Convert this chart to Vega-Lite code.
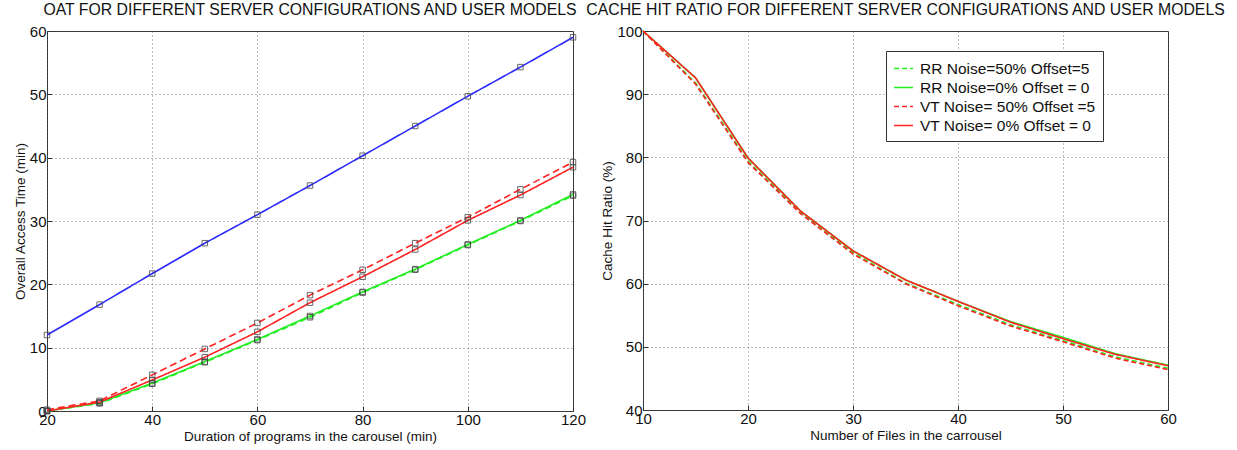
{
  "$schema": "https://vega.github.io/schema/vega-lite/v6.json",
  "padding": {"left": 12, "top": 1, "right": 5, "bottom": 2},
  "background": "white",
  "bounds": "flush",
  "spacing": 70,
  "config": {
    "font": "Liberation Sans",
    "view": {"stroke": "#333", "strokeWidth": 1},
    "axis": {
      "gridDash": [1, 3], "gridColor": "#555", "gridOpacity": 0.8,
      "domain": false, "tickSize": -5, "tickColor": "#333", "labelPadding": 6, "labelFlush": false,
      "labelFontSize": 15, "labelColor": "#111", "titleFontSize": 13.5, "titleFontWeight": "normal", "titleColor": "#111"
    },
    "title": {"fontSize": 15.8, "fontWeight": "normal", "color": "#111", "offset": 5}
  },
  "resolve": {"scale": {"color": "independent", "strokeDash": "independent"}, "legend": {"color": "independent", "strokeDash": "independent"}},
  "datasets": {
    "oat": [
      {"x": 20, "series": "Blue", "v": 12.0}, {"x": 30, "series": "Blue", "v": 16.8}, {"x": 40, "series": "Blue", "v": 21.7}, {"x": 50, "series": "Blue", "v": 26.5}, {"x": 60, "series": "Blue", "v": 31.0}, {"x": 70, "series": "Blue", "v": 35.6}, {"x": 80, "series": "Blue", "v": 40.3}, {"x": 90, "series": "Blue", "v": 45.0}, {"x": 100, "series": "Blue", "v": 49.7}, {"x": 110, "series": "Blue", "v": 54.3}, {"x": 120, "series": "Blue", "v": 59.0},
      {"x": 20, "series": "RR50", "v": 0.0}, {"x": 30, "series": "RR50", "v": 1.2}, {"x": 40, "series": "RR50", "v": 4.3}, {"x": 50, "series": "RR50", "v": 7.7}, {"x": 60, "series": "RR50", "v": 11.2}, {"x": 70, "series": "RR50", "v": 14.8}, {"x": 80, "series": "RR50", "v": 18.7}, {"x": 90, "series": "RR50", "v": 22.3}, {"x": 100, "series": "RR50", "v": 26.2}, {"x": 110, "series": "RR50", "v": 30.0}, {"x": 120, "series": "RR50", "v": 34.0},
      {"x": 20, "series": "RR0", "v": 0.0}, {"x": 30, "series": "RR0", "v": 1.3}, {"x": 40, "series": "RR0", "v": 4.4}, {"x": 50, "series": "RR0", "v": 7.8}, {"x": 60, "series": "RR0", "v": 11.3}, {"x": 70, "series": "RR0", "v": 15.0}, {"x": 80, "series": "RR0", "v": 18.8}, {"x": 90, "series": "RR0", "v": 22.4}, {"x": 100, "series": "RR0", "v": 26.3}, {"x": 110, "series": "RR0", "v": 30.1}, {"x": 120, "series": "RR0", "v": 34.2},
      {"x": 20, "series": "VT50", "v": 0.2}, {"x": 30, "series": "VT50", "v": 1.6}, {"x": 40, "series": "VT50", "v": 5.7}, {"x": 50, "series": "VT50", "v": 9.8}, {"x": 60, "series": "VT50", "v": 13.9}, {"x": 70, "series": "VT50", "v": 18.3}, {"x": 80, "series": "VT50", "v": 22.3}, {"x": 90, "series": "VT50", "v": 26.5}, {"x": 100, "series": "VT50", "v": 30.6}, {"x": 110, "series": "VT50", "v": 35.0}, {"x": 120, "series": "VT50", "v": 39.3},
      {"x": 20, "series": "VT0", "v": 0.0}, {"x": 30, "series": "VT0", "v": 1.4}, {"x": 40, "series": "VT0", "v": 4.9}, {"x": 50, "series": "VT0", "v": 8.5}, {"x": 60, "series": "VT0", "v": 12.5}, {"x": 70, "series": "VT0", "v": 17.1}, {"x": 80, "series": "VT0", "v": 21.2}, {"x": 90, "series": "VT0", "v": 25.5}, {"x": 100, "series": "VT0", "v": 30.1}, {"x": 110, "series": "VT0", "v": 34.1}, {"x": 120, "series": "VT0", "v": 38.5}
    ],
    "chr": [
      {"n": 10, "series": "RR Noise=50% Offset=5", "v": 100.0}, {"n": 15, "series": "RR Noise=50% Offset=5", "v": 91.8}, {"n": 20, "series": "RR Noise=50% Offset=5", "v": 79.4}, {"n": 25, "series": "RR Noise=50% Offset=5", "v": 71.2}, {"n": 30, "series": "RR Noise=50% Offset=5", "v": 64.9}, {"n": 35, "series": "RR Noise=50% Offset=5", "v": 60.1}, {"n": 40, "series": "RR Noise=50% Offset=5", "v": 56.7}, {"n": 45, "series": "RR Noise=50% Offset=5", "v": 53.5}, {"n": 50, "series": "RR Noise=50% Offset=5", "v": 51.0}, {"n": 55, "series": "RR Noise=50% Offset=5", "v": 48.4}, {"n": 60, "series": "RR Noise=50% Offset=5", "v": 46.6},
      {"n": 10, "series": "RR Noise=0% Offset = 0", "v": 100.0}, {"n": 15, "series": "RR Noise=0% Offset = 0", "v": 92.6}, {"n": 20, "series": "RR Noise=0% Offset = 0", "v": 79.9}, {"n": 25, "series": "RR Noise=0% Offset = 0", "v": 71.5}, {"n": 30, "series": "RR Noise=0% Offset = 0", "v": 65.2}, {"n": 35, "series": "RR Noise=0% Offset = 0", "v": 60.6}, {"n": 40, "series": "RR Noise=0% Offset = 0", "v": 57.2}, {"n": 45, "series": "RR Noise=0% Offset = 0", "v": 54.0}, {"n": 50, "series": "RR Noise=0% Offset = 0", "v": 51.5}, {"n": 55, "series": "RR Noise=0% Offset = 0", "v": 48.9}, {"n": 60, "series": "RR Noise=0% Offset = 0", "v": 47.1},
      {"n": 10, "series": "VT Noise= 50% Offset =5", "v": 100.0}, {"n": 15, "series": "VT Noise= 50% Offset =5", "v": 91.6}, {"n": 20, "series": "VT Noise= 50% Offset =5", "v": 79.2}, {"n": 25, "series": "VT Noise= 50% Offset =5", "v": 71.1}, {"n": 30, "series": "VT Noise= 50% Offset =5", "v": 64.7}, {"n": 35, "series": "VT Noise= 50% Offset =5", "v": 60.0}, {"n": 40, "series": "VT Noise= 50% Offset =5", "v": 56.5}, {"n": 45, "series": "VT Noise= 50% Offset =5", "v": 53.3}, {"n": 50, "series": "VT Noise= 50% Offset =5", "v": 50.8}, {"n": 55, "series": "VT Noise= 50% Offset =5", "v": 48.2}, {"n": 60, "series": "VT Noise= 50% Offset =5", "v": 46.4},
      {"n": 10, "series": "VT Noise= 0% Offset = 0", "v": 100.0}, {"n": 15, "series": "VT Noise= 0% Offset = 0", "v": 92.6}, {"n": 20, "series": "VT Noise= 0% Offset = 0", "v": 79.9}, {"n": 25, "series": "VT Noise= 0% Offset = 0", "v": 71.5}, {"n": 30, "series": "VT Noise= 0% Offset = 0", "v": 65.2}, {"n": 35, "series": "VT Noise= 0% Offset = 0", "v": 60.6}, {"n": 40, "series": "VT Noise= 0% Offset = 0", "v": 57.2}, {"n": 45, "series": "VT Noise= 0% Offset = 0", "v": 53.9}, {"n": 50, "series": "VT Noise= 0% Offset = 0", "v": 51.3}, {"n": 55, "series": "VT Noise= 0% Offset = 0", "v": 48.8}, {"n": 60, "series": "VT Noise= 0% Offset = 0", "v": 47.0}
    ]
  },
  "hconcat": [
    {
      "width": 526, "height": 380,
      "title": "OAT FOR DIFFERENT SERVER CONFIGURATIONS AND USER MODELS",
      "data": {"name": "oat"},
      "encoding": {
        "x": {"field": "x", "type": "quantitative", "scale": {"domain": [20, 120], "nice": false}, "axis": {"values": [20, 40, 60, 80, 100, 120], "title": "Duration of programs in the carousel (min)", "titlePadding": 2}},
        "y": {"field": "v", "type": "quantitative", "scale": {"domain": [0, 60], "nice": false}, "axis": {"values": [0, 10, 20, 30, 40, 50, 60], "title": "Overall Access Time (min)", "titlePadding": 2}}
      },
      "layer": [
        {
          "mark": {"type": "line", "strokeWidth": 1.6},
          "encoding": {
            "detail": {"field": "series"},
            "color": {"field": "series", "type": "nominal", "scale": {"domain": ["Blue", "RR50", "RR0", "VT50", "VT0"], "range": ["#2a2aff", "#22ee22", "#22ee22", "#ff2222", "#ff2222"]}, "legend": null},
            "strokeDash": {"field": "series", "type": "nominal", "scale": {"domain": ["Blue", "RR50", "RR0", "VT50", "VT0"], "range": [[1, 0], [6, 4], [1, 0], [7, 4], [1, 0]]}, "legend": null}
          }
        },
        {
          "mark": {"type": "point", "shape": "square", "filled": false, "size": 30, "stroke": "#444", "strokeWidth": 1, "opacity": 0.8},
          "encoding": {"detail": {"field": "series"}}
        }
      ]
    },
    {
      "width": 525, "height": 379,
      "title": "CACHE HIT RATIO FOR DIFFERENT SERVER CONFIGURATIONS AND USER MODELS",
      "data": {"name": "chr"},
      "encoding": {
        "x": {"field": "n", "type": "quantitative", "scale": {"domain": [10, 60], "nice": false}, "axis": {"values": [10, 20, 30, 40, 50, 60], "title": "Number of Files in the carrousel", "titlePadding": 2}},
        "y": {"field": "v", "type": "quantitative", "scale": {"domain": [40, 100], "nice": false}, "axis": {"values": [40, 50, 60, 70, 80, 90, 100], "title": "Cache Hit Ratio (%)", "titlePadding": 2}}
      },
      "layer": [
        {
          "mark": {"type": "line", "strokeWidth": 1.6},
          "encoding": {
            "color": {"field": "series", "type": "nominal", "title": null, "scale": {"domain": ["RR Noise=50% Offset=5", "RR Noise=0% Offset = 0", "VT Noise= 50% Offset =5", "VT Noise= 0% Offset = 0"], "range": ["#22ee22", "#22ee22", "#ff2222", "#ff2222"]},
              "legend": {"orient": "none", "legendX": 243, "legendY": 20, "strokeColor": "#333", "fillColor": "white", "padding": 7, "symbolType": "stroke", "symbolSize": 361, "symbolStrokeWidth": 1.6, "labelFontSize": 15.5, "labelLimit": 400, "labelColor": "#111", "rowPadding": 0, "labelOffset": 6}},
            "strokeDash": {"field": "series", "type": "nominal", "title": null, "scale": {"domain": ["RR Noise=50% Offset=5", "RR Noise=0% Offset = 0", "VT Noise= 50% Offset =5", "VT Noise= 0% Offset = 0"], "range": [[5, 3], [1, 0], [5, 3], [1, 0]]}}
          }
        }
      ]
    }
  ]
}
